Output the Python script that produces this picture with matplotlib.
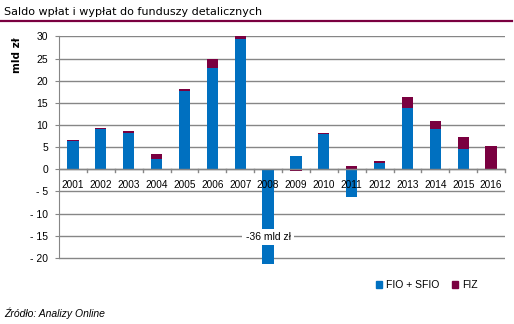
import matplotlib
matplotlib.use("Agg")
import matplotlib.pyplot as plt
import numpy as np
from matplotlib.patches import Patch

years = ["2001", "2002", "2003", "2004", "2005", "2006", "2007", "2008",
         "2009", "2010", "2011", "2012", "2013", "2014", "2015", "2016"]
fio_sfio = [6.3, 9.1, 8.3, 2.4, 17.6, 22.9, 29.45, -36.0,
            2.9, 8.0, -6.3, 1.45, 13.9, 9.15, 4.6, 0.0]
fiz = [0.2, 0.2, 0.25, 1.15, 0.5, 2.0, 0.6, 0.0,
       -0.3, 0.25, 0.75, 0.45, 2.5, 1.85, 2.7, 5.3]
yticks = [-20, -15, -10, -5, 0, 5, 10, 15, 20, 25, 30]
ytick_labels = ["- 20", "- 15", "- 10", "- 5", "0", "5", "10", "15", "20", "25", "30"]

BLUE = "#0070C0"
MAROON = "#7A0040"
GRID = "#868686"

plt.rcParams["font.family"] = ["Liberation Sans", "DejaVu Sans"]
FS = 7.5

fig = plt.figure(figsize=(5.14, 3.24), dpi=100)
ax = fig.add_axes([59 / 514, 1 - 264 / 324, (505 - 59) / 514, (264 - 36) / 324])

x = np.arange(len(years))
fio = np.array(fio_sfio)
fz = np.array(fiz)
w = 0.4
ax.bar(x, fio, width=w, color=BLUE, zorder=3)
base = np.where((fz >= 0) & (fio > 0), fio, 0.0)
ax.bar(x, fz, width=w, bottom=base, color=MAROON, zorder=3)

ax.set_xlim(-0.5, len(years) - 0.5)
ax.set_ylim(-21.4, 30.1)
ax.set_yticks(yticks)
ax.set_yticklabels(ytick_labels, fontsize=FS)
ax.yaxis.grid(True, color=GRID, linewidth=1.0, zorder=0)
ax.set_axisbelow(True)

for s in ["top", "right", "bottom"]:
    ax.spines[s].set_visible(False)
ax.spines["left"].set_bounds(-20, 30)
ax.spines["left"].set_color(GRID)
ax.tick_params(axis="y", length=3, color=GRID, pad=5)

ax.axhline(0, color=GRID, linewidth=1.0, zorder=4)
ax.set_xticks([])
for i, lab in enumerate(years):
    ax.text(x[i], -2.4, lab, ha="center", va="top", fontsize=7.2, zorder=5)
for b in np.arange(-0.5, len(years), 1.0)[1:]:
    ax.plot([b, b], [0, -0.7], color=GRID, linewidth=1.0, zorder=4, clip_on=False)

ax.text(x[7], -15.3, "-36 mld zł", ha="center", va="center", fontsize=FS, zorder=6,
        bbox=dict(facecolor="white", edgecolor="none", pad=2.5))

ax.set_ylabel("mld zł", fontsize=7.5, fontweight="bold", family="DejaVu Sans")
ax.yaxis.set_label_coords(-0.084, 0.917)

fig.text(4 / 514, 1 - 12 / 324, "Saldo wpłat i wypłat do funduszy detalicznych",
         fontsize=8, family="DejaVu Sans", ha="left", va="center")
fig.add_artist(plt.Line2D([0, 512 / 514], [1 - 21 / 324, 1 - 21 / 324],
                          color=MAROON, linewidth=1.6, transform=fig.transFigure))

handles = [Patch(color=BLUE, label="FIO + SFIO"), Patch(color=MAROON, label="FIZ")]
fig.legend(handles=handles, loc="center", bbox_to_anchor=(427 / 514, 1 - 285 / 324),
           ncol=2, frameon=False, fontsize=FS, handlelength=0.6, handleheight=0.6,
           handletextpad=0.4, columnspacing=1.2)

fig.text(4 / 514, 1 - 313 / 324, "Źródło: Analizy Online", fontsize=FS,
         style="italic", ha="left", va="center")

fig.savefig("out.png", dpi=100)
